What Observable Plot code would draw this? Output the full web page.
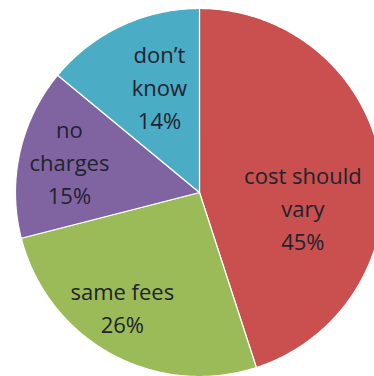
<!DOCTYPE html>
<html>
<head>
<meta charset="utf-8">
<script src="https://cdn.jsdelivr.net/npm/d3@7"></script>
<script src="https://cdn.jsdelivr.net/npm/@observablehq/plot@0.6"></script>
<style>
  html, body { margin: 0; padding: 0; background: #fff; }
  #chart svg { display: block; }
</style>
</head>
<body>
<div id="chart"></div>
<script>
// Survey answers, clockwise from 12 o'clock
const categories = ["cost should\nvary", "same fees", "no\ncharges", "don’t\nknow"];
const shares = [45, 26, 15, 14];
const colors = ["#C9504E", "#9BBB59", "#8064A2", "#4BACC6"];

// Pie geometry in pixels (center and radius); the pie overflows the right edge
const W = 374, H = 376;
const cx = 199, cy = 192, R = 184;

// Label placement: fraction of radius and angular nudge (degrees) from slice middle
const labelRadius = [0.567, 0.746, 0.728, 0.621];
const labelTurn = [16.7, 5.4, 1.2, 4.7];

const total = d3.sum(shares);
const toRad = Math.PI / 180;

// Build each wedge as a closed polygon in unit coordinates (radius 1)
const wedges = [];
const labels = [];
let start = 0;
categories.forEach((cat, i) => {
  const a0 = start / total * 360;
  const a1 = (start + shares[i]) / total * 360;
  start += shares[i];
  wedges.push({cat, x: 0, y: 0});
  const steps = Math.max(2, Math.ceil((a1 - a0) * 2));
  for (let s = 0; s <= steps; ++s) {
    const a = (a0 + (a1 - a0) * s / steps) * toRad;
    wedges.push({cat, x: Math.sin(a), y: Math.cos(a)});
  }
  const am = ((a0 + a1) / 2 + labelTurn[i]) * toRad;
  labels.push({
    cat,
    text: `${cat}\n${shares[i]}%`,
    x: labelRadius[i] * Math.sin(am),
    y: labelRadius[i] * Math.cos(am)
  });
});

const chart = Plot.plot({
  width: W,
  height: H,
  margin: 0,
  x: {domain: [-cx / R, (W - cx) / R], range: [0, W], axis: null},
  y: {domain: [-(H - cy) / R, cy / R], range: [H, 0], axis: null},
  color: {domain: categories, range: colors},
  style: {background: "#fff", overflow: "hidden"},
  marks: [
    Plot.line(wedges, {
      x: "x", y: "y", z: "cat",
      fill: "cat",
      stroke: "#fff",
      strokeWidth: 1.2,
      curve: "linear-closed"
    }),
    Plot.text(labels, {
      x: "x", y: "y", text: "text",
      fontSize: 22,
      lineHeight: 1.5,
      fontFamily: "'Open Sans', Lato, sans-serif",
      fill: "#22222e"
    })
  ]
});

document.getElementById("chart").append(chart);
</script>
</body>
</html>
